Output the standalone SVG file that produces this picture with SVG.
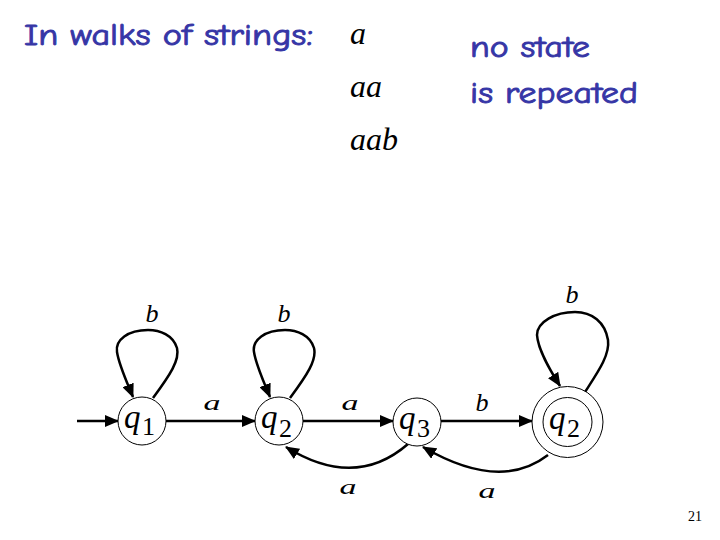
<svg xmlns="http://www.w3.org/2000/svg" width="720" height="540" viewBox="0 0 720 540">
<style>
.hdr{font-family:"Comic Neue","Comic Sans MS","DejaVu Sans",sans-serif;fill:#3636a6;stroke:#3636a6;stroke-width:0.9px;font-size:30px;font-weight:400}
.mat{font-family:"Liberation Serif",serif;font-style:italic;fill:#000}
.sub{font-family:"Liberation Serif",serif;fill:#000}
.st{fill:#fff;stroke:#000;stroke-width:1}
.ed{fill:none;stroke:#000;stroke-width:2.5}
</style>
<defs>
<marker id="ah" markerUnits="userSpaceOnUse" markerWidth="14" markerHeight="12" refX="13" refY="6" orient="auto" viewBox="0 0 14 12">
<path d="M0,0 L14,6 L0,12 Z" fill="#000"/>
</marker>
</defs>
<rect width="720" height="540" fill="#fff"/>
<text class="hdr" x="24" y="45" textLength="289" lengthAdjust="spacingAndGlyphs">In walks of strings:</text>
<text class="hdr" x="470" y="57" textLength="120" lengthAdjust="spacingAndGlyphs">no state</text>
<text class="hdr" x="470" y="103" textLength="168" lengthAdjust="spacingAndGlyphs">is repeated</text>
<text class="mat" x="350" y="44" font-size="32">a</text>
<text class="mat" x="350" y="97" font-size="32">aa</text>
<text class="mat" x="350" y="150" font-size="32">aab</text>
<text class="sub" x="688" y="521" font-size="14">21</text>

<g id="edges">
<path class="ed" d="M77,421 L118,421" marker-end="url(#ah)"/>
<path class="ed" d="M166,421 L255,421" marker-end="url(#ah)"/>
<path class="ed" d="M303,421 L393,421" marker-end="url(#ah)"/>
<path class="ed" d="M441,421 L532,421" marker-end="url(#ah)"/>
<path class="ed" d="M153,398 C170,375 180,360 177,348 C173,335 160,330 148,330 C128,330 115,340 117,352 C119,365 126,380 133,397" marker-end="url(#ah)"/>
<path class="ed" d="M290,398 C307,375 317,360 314,348 C310,335 297,330 285,330 C265,330 252,340 254,352 C256,365 263,380 270,397" marker-end="url(#ah)"/>
<path class="ed" d="M585,392 C598,372 610,355 608,340 C605,322 592,312 575,312 C555,312 537,322 537,335 C538,350 550,370 560,386" marker-end="url(#ah)"/>
<path class="ed" d="M408,444 Q355,490 286,447" marker-end="url(#ah)"/>
<path class="ed" d="M548,455 Q500,492 423,447" marker-end="url(#ah)"/>
<text class="mat" x="152" y="322" font-size="26" text-anchor="middle">b</text>
<text class="mat" x="284" y="322" font-size="26" text-anchor="middle">b</text>
<text class="mat" x="572" y="303" font-size="26" text-anchor="middle">b</text>
<text class="mat" x="482" y="411" font-size="26" text-anchor="middle">b</text>
<text class="mat" font-size="20" text-anchor="middle" transform="translate(212,410) scale(1.7,1)">a</text>
<text class="mat" font-size="20" text-anchor="middle" transform="translate(350,410) scale(1.7,1)">a</text>
<text class="mat" font-size="20" text-anchor="middle" transform="translate(348,494) scale(1.7,1)">a</text>
<text class="mat" font-size="20" text-anchor="middle" transform="translate(487,498) scale(1.7,1)">a</text>
</g>

<g id="q1">
<circle class="st" cx="142" cy="421" r="24"/>
<text class="mat" x="124" y="428" font-size="33">q</text>
<text class="sub" x="142" y="435" font-size="26">1</text>
</g>
<g id="q2">
<circle class="st" cx="279" cy="421" r="24"/>
<text class="mat" x="261" y="428" font-size="33">q</text>
<text class="sub" x="279" y="437" font-size="26">2</text>
</g>
<g id="q3">
<circle class="st" cx="417" cy="422" r="24"/>
<text class="mat" x="399" y="429" font-size="33">q</text>
<text class="sub" x="417" y="437" font-size="26">3</text>
</g>
<g id="q2f">
<circle class="st" cx="567.5" cy="422" r="35.5"/>
<circle class="st" cx="567.5" cy="422" r="24.5"/>
<text class="mat" x="549" y="429" font-size="33">q</text>
<text class="sub" x="567" y="437" font-size="26">2</text>
</g>
</svg>
